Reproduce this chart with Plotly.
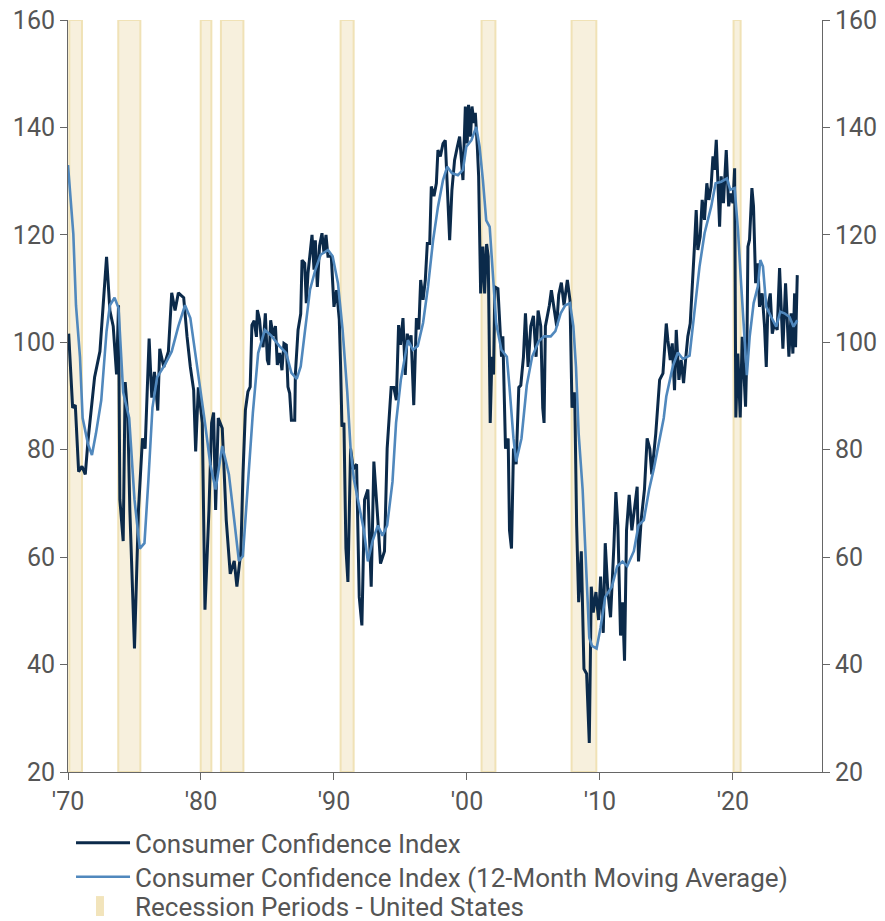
import plotly.graph_objects as go

# ---- Consumer Confidence Index (monthly) ----
cci_year = [
    1970.05, 1970.35, 1970.55, 1970.8, 1971.05, 1971.3, 1971.5, 1972.0, 1972.4, 1972.9,
    1973.15, 1973.4, 1973.65, 1973.8, 1973.9, 1974.15, 1974.3, 1974.5, 1974.65, 1975.0,
    1975.3, 1975.6, 1975.8, 1976.1, 1976.3, 1976.5, 1976.75, 1976.9, 1977.2, 1977.55,
    1977.8, 1978.05, 1978.3, 1978.7, 1978.95, 1979.2, 1979.45, 1979.6, 1979.8, 1980.1,
    1980.3, 1980.6, 1980.8, 1980.95, 1981.1, 1981.3, 1981.6, 1981.9, 1982.2, 1982.5,
    1982.7, 1983.0, 1983.16, 1983.34, 1983.53, 1983.7, 1983.83, 1984.0, 1984.17, 1984.24,
    1984.4, 1984.54, 1984.67, 1984.84, 1984.99, 1985.1, 1985.24, 1985.42, 1985.6, 1985.74,
    1985.92, 1986.09, 1986.24, 1986.42, 1986.54, 1986.67, 1986.8, 1987.05, 1987.1, 1987.3,
    1987.5, 1987.6, 1987.8, 1987.92, 1988.05, 1988.17, 1988.35, 1988.5, 1988.6, 1988.75,
    1988.92, 1989.1, 1989.25, 1989.4, 1989.55, 1989.8, 1990.0, 1990.2, 1990.4, 1990.5,
    1990.6, 1990.75, 1990.9, 1991.05, 1991.25, 1991.45, 1991.7, 1991.9, 1992.1, 1992.3,
    1992.55, 1992.8, 1993.0, 1993.3, 1993.5, 1993.8, 1994.0, 1994.3, 1994.5, 1994.69,
    1994.86, 1995.0, 1995.19, 1995.36, 1995.51, 1995.69, 1995.8, 1996.0, 1996.2, 1996.38,
    1996.52, 1996.7, 1996.87, 1997.02, 1997.2, 1997.32, 1997.52, 1997.7, 1997.82, 1998.0,
    1998.2, 1998.37, 1998.52, 1998.7, 1998.87, 1999.07, 1999.27, 1999.45, 1999.7, 1999.88,
    2000.02, 2000.12, 2000.27, 2000.38, 2000.53, 2000.63, 2000.78, 2000.88, 2001.03, 2001.2,
    2001.33, 2001.48, 2001.6, 2001.75, 2001.88, 2002.0, 2002.1, 2002.33, 2002.6, 2002.7,
    2002.9, 2003.1, 2003.2, 2003.35, 2003.5, 2003.7, 2003.9, 2004.05, 2004.25, 2004.4,
    2004.6, 2004.8, 2005.0, 2005.2, 2005.35, 2005.55, 2005.7, 2005.8, 2005.9, 2006.2,
    2006.35, 2006.55, 2006.75, 2006.9, 2007.1, 2007.3, 2007.55, 2007.75, 2007.9, 2008.1,
    2008.25, 2008.4, 2008.6, 2008.8, 2009.0, 2009.2, 2009.35, 2009.5, 2009.7, 2009.9,
    2010.05, 2010.25, 2010.4, 2010.6, 2010.8, 2011.05, 2011.2, 2011.35, 2011.55, 2011.7,
    2011.85, 2012.0, 2012.2, 2012.4, 2012.6, 2012.8, 2012.9, 2013.1, 2013.35, 2013.55,
    2013.75, 2013.9, 2014.2, 2014.35, 2014.49, 2014.74, 2014.99, 2015.11, 2015.29, 2015.44,
    2015.61, 2015.74, 2015.94, 2016.11, 2016.29, 2016.44, 2016.61, 2016.79, 2016.94, 2017.11,
    2017.24, 2017.36, 2017.54, 2017.69, 2017.86, 2018.04, 2018.19, 2018.36, 2018.5, 2018.61,
    2018.75, 2018.87, 2019.0, 2019.12, 2019.29, 2019.5, 2019.68, 2019.83, 2020.0, 2020.13,
    2020.22, 2020.37, 2020.55, 2020.7, 2020.87, 2020.95, 2021.05, 2021.13, 2021.25, 2021.43,
    2021.55, 2021.71, 2021.88, 2022.0, 2022.2, 2022.38, 2022.51, 2022.63, 2022.81, 2022.96,
    2023.13, 2023.33, 2023.51, 2023.63, 2023.76, 2023.96, 2024.08, 2024.21, 2024.38, 2024.51,
    2024.64, 2024.71, 2024.84,
]
cci_value = [
    101.6, 87.8, 88.3, 75.9, 76.9, 75.4, 81.6, 93.5, 98.3, 115.9,
    105.9, 103.0, 94.0, 106.9, 70.7, 63.0, 92.6, 85.9, 68.8, 43.0,
    68.8, 82.1, 80.2, 100.7, 89.7, 94.5, 87.3, 98.8, 95.4, 98.3,
    109.2, 105.9, 109.2, 108.3, 101.1, 95.4, 91.1, 79.7, 91.6, 85.0,
    50.2, 68.8, 85.0, 86.9, 68.8, 85.9, 84.0, 66.9, 56.9, 59.3,
    54.5, 61.1, 75.6, 87.4, 90.8, 91.7, 103.2, 104.0, 101.0, 106.0,
    104.3, 100.4, 99.1, 105.4, 96.7, 95.8, 104.1, 101.2, 103.0, 95.8,
    98.0, 94.8, 99.8, 99.5, 91.7, 90.5, 85.5, 85.5, 94.2, 102.3,
    105.3, 115.3, 114.7, 107.3, 112.9, 116.0, 120.0, 113.5, 119.0, 110.3,
    118.0, 120.3, 116.6, 120.0, 116.0, 116.0, 106.6, 109.7, 104.2, 95.5,
    84.3, 85.0, 61.6, 55.4, 80.2, 76.4, 77.3, 52.6, 47.3, 70.7,
    72.6, 54.5, 77.8, 66.9, 58.8, 61.1, 80.2, 91.6, 91.6, 89.2,
    103.2, 99.5, 104.5, 93.9, 101.6, 99.5, 101.3, 88.3, 104.5, 102.4,
    111.6, 107.9, 111.6, 118.4, 118.4, 129.0, 127.2, 129.6, 135.8, 134.6,
    137.0, 137.6, 130.2, 119.0, 128.3, 133.9, 136.3, 138.3, 130.2, 143.9,
    137.0, 144.2, 138.3, 143.9, 140.8, 142.7, 136.4, 130.9, 109.1, 117.8,
    109.1, 118.3, 116.0, 85.0, 97.3, 94.0, 110.3, 110.0, 97.3, 101.1,
    80.2, 82.1, 65.0, 61.6, 80.2, 77.3, 91.6, 92.0, 97.3, 105.4,
    95.4, 103.0, 104.9, 97.3, 105.9, 103.0, 87.8, 85.0, 103.0, 106.9,
    109.7, 105.9, 103.0, 108.8, 111.1, 106.9, 111.6, 107.8, 87.8, 90.7,
    65.9, 51.6, 61.1, 39.2, 38.3, 25.4, 54.5, 49.7, 53.5, 48.3,
    56.4, 45.9, 62.6, 53.5, 48.8, 62.1, 72.1, 65.9, 45.4, 51.6,
    40.7, 65.0, 71.6, 65.0, 68.8, 73.1, 59.2, 66.9, 72.6, 82.1,
    80.2, 75.4, 83.0, 88.8, 93.0, 94.2, 103.5, 100.4, 96.7, 99.8,
    91.1, 102.3, 93.0, 96.7, 92.4, 96.7, 101.1, 103.5, 111.6, 117.9,
    124.6, 117.2, 119.7, 126.5, 122.8, 129.6, 126.5, 129.0, 134.6, 132.1,
    137.7, 130.2, 121.5, 130.9, 125.9, 135.8, 125.3, 127.7, 125.9, 132.4,
    86.0, 97.9, 86.0, 101.0, 90.0, 88.0, 97.9, 117.8, 119.1, 128.7,
    125.3, 111.0, 114.7, 106.6, 109.1, 102.9, 95.4, 106.6, 109.1, 101.6,
    103.5, 102.3, 113.8, 104.7, 98.8, 111.0, 102.9, 97.3, 105.4, 97.9,
    109.1, 99.1, 112.5,
]

# ---- 12-month moving average ----
ma_year = [
    1970.0, 1970.4, 1970.6, 1970.9, 1971.1, 1971.5, 1971.8, 1972.1, 1972.5, 1972.9,
    1973.15, 1973.5, 1973.8, 1974.15, 1974.6, 1975.0, 1975.4, 1975.75, 1976.05, 1976.35,
    1976.7, 1977.3, 1977.8, 1978.3, 1978.8, 1979.2, 1979.55, 1979.95, 1980.3, 1980.7,
    1981.1, 1981.6, 1982.1, 1982.5, 1982.85, 1983.15, 1983.53, 1983.9, 1984.3, 1984.8,
    1985.3, 1985.9, 1986.4, 1986.8, 1987.2, 1987.5, 1987.8, 1988.2, 1988.6, 1989.0,
    1989.55, 1989.9, 1990.3, 1990.65, 1991.0, 1991.25, 1991.5, 1991.9, 1992.25, 1992.55,
    1992.9, 1993.3, 1993.65, 1994.0, 1994.4, 1994.67, 1995.03, 1995.56, 1995.94, 1996.3,
    1996.7, 1997.07, 1997.45, 1997.82, 1998.2, 1998.52, 1998.87, 1999.32, 1999.7, 1999.95,
    2000.33, 2000.7, 2000.95, 2001.2, 2001.45, 2001.71, 2001.96, 2002.2, 2002.59, 2003.0,
    2003.2, 2003.5, 2003.7, 2004.1, 2004.5, 2004.9, 2005.4, 2005.8, 2006.3, 2006.65,
    2007.05, 2007.4, 2007.75, 2008.0, 2008.2, 2008.4, 2008.7, 2008.9, 2009.2, 2009.4,
    2009.75, 2010.05, 2010.4, 2010.9, 2011.3, 2011.7, 2012.05, 2012.55, 2012.9, 2013.3,
    2013.7, 2014.05, 2014.4, 2014.8, 2014.99, 2015.49, 2015.86, 2016.24, 2016.74, 2017.11,
    2017.49, 2017.87, 2018.12, 2018.37, 2018.7, 2019.12, 2019.55, 2019.8, 2020.13, 2020.38,
    2020.63, 2020.88, 2021.05, 2021.26, 2021.56, 2021.88, 2022.06, 2022.26, 2022.51, 2022.88,
    2023.26, 2023.56, 2023.88, 2024.26, 2024.56, 2024.84,
]
ma_value = [
    133.0, 120.2, 106.9, 97.3, 85.9, 81.1, 79.0, 83.0, 89.2, 102.1,
    106.9, 108.3, 106.4, 90.7, 85.9, 70.7, 61.6, 62.6, 74.5, 87.8,
    93.5, 95.9, 98.3, 103.0, 106.9, 104.5, 98.3, 91.6, 85.0, 77.3,
    72.6, 80.7, 75.4, 66.9, 59.3, 60.2, 73.2, 86.8, 98.0, 102.3,
    101.2, 99.3, 98.0, 94.3, 93.2, 95.5, 101.7, 109.8, 113.5, 116.3,
    117.2, 116.0, 111.0, 102.3, 90.7, 80.2, 74.5, 69.7, 65.0, 59.2,
    63.0, 65.9, 64.0, 65.9, 74.0, 85.0, 93.0, 100.4, 98.6, 99.3,
    103.6, 110.3, 118.9, 125.2, 130.2, 132.7, 131.5, 131.1, 132.1, 136.4,
    137.6, 140.1, 136.4, 130.2, 122.7, 121.5, 111.6, 103.5, 98.6, 97.3,
    91.6, 82.1, 77.8, 82.1, 92.0, 97.3, 100.2, 101.1, 101.1, 102.1,
    105.4, 106.9, 107.3, 103.0, 95.4, 83.0, 72.6, 61.1, 45.0, 43.5,
    43.0, 46.9, 52.6, 54.5, 58.3, 59.2, 58.3, 61.1, 65.9, 66.9,
    72.6, 76.4, 81.1, 85.9, 89.9, 95.6, 98.1, 96.9, 97.5, 105.4,
    114.1, 120.3, 122.8, 125.3, 129.6, 129.9, 130.5, 128.4, 128.7, 120.9,
    110.4, 99.2, 93.9, 101.0, 107.3, 110.4, 115.3, 114.1, 106.6, 104.7,
    102.9, 105.7, 105.4, 104.7, 102.9, 104.1,
]

# ---- Recession periods (start, end as fractional years) ----
rec_start = [1970.1, 1973.78, 1979.98, 1981.5, 1990.5, 2001.1, 2007.87, 2020.05]
rec_end = [1971.05, 1975.44, 1980.78, 1983.19, 1991.48, 2002.14, 2009.73, 2020.58]

x_ticks = [1970, 1980, 1990, 2000, 2010, 2020]
x_ticktext = ["'70", "'80", "'90", "'00", "'10", "'20"]
y_ticks = [20, 40, 60, 80, 100, 120, 140, 160]

NAVY = "#0b2a4a"
STEEL = "#5088bd"
BAND_FILL = "#f7f0dd"
BAND_LINE = "#f0e2b6"
BAND_KEY = "#f2e4bb"
GREY = "#555555"
FONT = "Roboto, 'Noto Sans', sans-serif"

rx, ry = [], []
for s, e in zip(rec_start, rec_end):
    rx += [s, s, e, e, s, None]
    ry += [20, 160, 160, 20, 20, None]

fig = go.Figure()
fig.add_trace(go.Scatter(
    x=rx, y=ry, fill="toself", fillcolor=BAND_FILL, mode="lines",
    line=dict(color=BAND_LINE, width=2), name="Recession Periods - United States",
    hoverinfo="skip", showlegend=False,
))
fig.add_trace(go.Scatter(
    x=cci_year, y=cci_value, mode="lines", line=dict(color=NAVY, width=3),
    name="Consumer Confidence Index", legend="legend",
))
fig.add_trace(go.Scatter(
    x=ma_year, y=ma_value, mode="lines", line=dict(color=STEEL, width=2.6),
    name="Consumer Confidence Index (12-Month Moving Average)", legend="legend2",
    yaxis="y2",
))
# legend entry for the recession bands (its key is the small rectangle shape below)
fig.add_trace(go.Scatter(
    x=[None], y=[None], mode="markers", name="Recession Periods - United States",
    marker=dict(symbol="square", size=10, color="rgba(0,0,0,0)"),
    legend="legend3", hoverinfo="skip",
))

axis_common = dict(
    showgrid=False, zeroline=False, showline=True, linecolor="#666666", linewidth=1,
    ticks="outside", tickcolor="#666666", ticklen=7, automargin=False,
    ticklabeloverflow="allow",
    tickfont=dict(family=FONT, size=25, color=GREY),
)

legend_common = dict(
    x=0.004, xanchor="left", yanchor="top", orientation="v",
    font=dict(family=FONT, size=26, color=GREY), bgcolor="rgba(0,0,0,0)",
    itemwidth=54,
)

fig.update_layout(
    width=885, height=921,
    margin=dict(l=68, r=63, t=20, b=149, autoexpand=False),
    paper_bgcolor="white", plot_bgcolor="white",
    font=dict(family=FONT, size=25, color=GREY),
    xaxis=dict(range=[1970, 2026.7], tickvals=x_ticks, ticktext=x_ticktext, **axis_common),
    yaxis=dict(range=[20, 160], tickvals=y_ticks, **axis_common),
    yaxis2=dict(range=[20, 160], tickvals=y_ticks, overlaying="y", side="right", **axis_common),
    showlegend=True,
    legend=dict(y=-0.063, **legend_common),
    legend2=dict(y=-0.1082, **legend_common),
    legend3=dict(y=-0.1468, **legend_common),
    shapes=[dict(
        type="rect", xref="paper", yref="paper",
        x0=0.0371, x1=0.0477, y0=-0.1915, y1=-0.1650,
        fillcolor=BAND_KEY, line=dict(width=0), layer="above",
    )],
)

# remove the default 8px body margin so the figure fills the 885x921 window exactly
fig.write_html(
    "out.html",
    config={"displayModeBar": False},
    post_script="document.body.style.margin='0px';",
)
